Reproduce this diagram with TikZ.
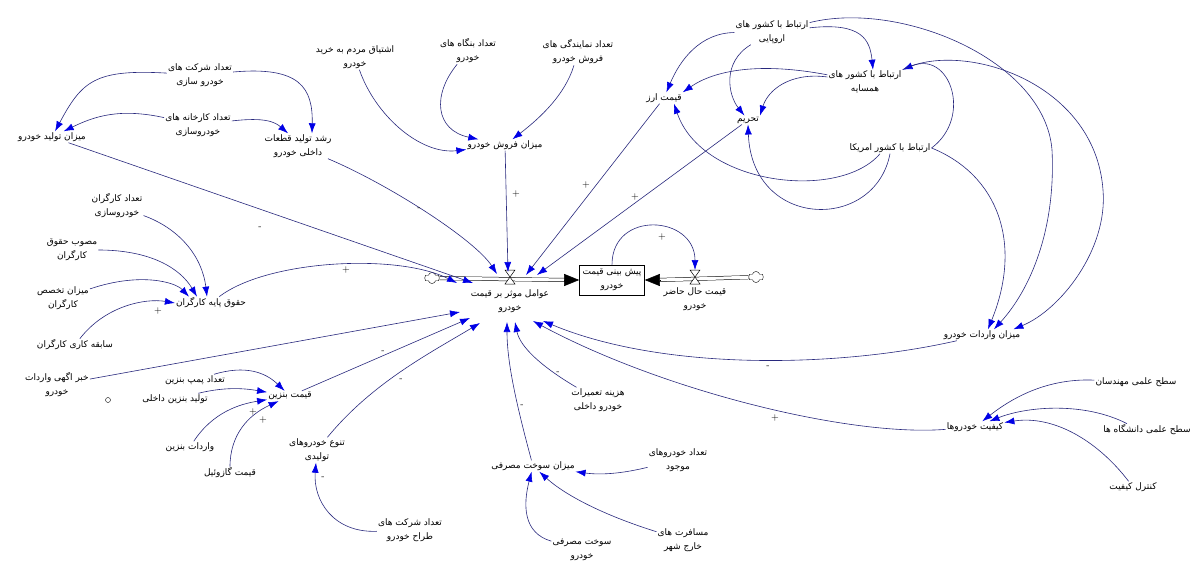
\documentclass[tikz,border=0pt]{standalone}
\usepackage{fontspec}
\newfontfamily\arabicfont[Script=Arabic]{DejaVu Sans}
\TeXXeTstate=1
\usetikzlibrary{arrows.meta, shapes.symbols}
\definecolor{linkblue}{RGB}{40,40,125}
\definecolor{arrowblue}{RGB}{0,0,230}
\newcommand{\fa}[1]{\beginR #1\endR}

\begin{document}
\begin{tikzpicture}[x=1pt, y=-1pt,
  every node/.append style={inner sep=1pt},
  var/.style={font=\arabicfont\fontsize{9}{14}\selectfont, align=center},
  stock/.style={var, draw=black, line width=0.6pt, minimum width=65pt, minimum height=30pt},
  link/.style={draw=linkblue, line width=0.6pt, -{Latex[length=10pt,width=7pt,color=arrowblue]}},
  pipe/.style={draw=black, line width=0.5pt, double distance=3pt},
  flowhead/.style={draw=black, line width=0.5pt, -{Triangle[length=15pt,width=12pt]}},
  valve/.style={draw=black, fill=white, line width=0.5pt},
  source/.style={draw=black, fill=white, shape=cloud, cloud puffs=6, aspect=1.4, minimum width=15pt, minimum height=11pt, inner sep=0pt},
  sign/.style={font=\fontsize{10}{10}\selectfont, inner sep=0pt}]
\useasboundingbox[fill=white] (0,0) rectangle (1192,567);

\node[var] (nCompanies) at (200,75) {\fa{تعداد شرکت های}\\\fa{خودرو سازی}};
\node[var] (nProd) at (52,137) {\fa{میزان تولید خودرو}};
\node[var] (nFactories) at (198,125) {\fa{تعداد کارخانه های}\\\fa{خودروسازی}};
\node[var] (nParts) at (298,146) {\fa{رشد تولید قطعات}\\\fa{داخلی خودرو}};
\node[var] (nDesire) at (355,57) {\fa{اشتیاق مردم به خرید}\\\fa{خودرو}};
\node[var] (nFirms) at (468,51) {\fa{تعداد بنگاه های}\\\fa{خودرو}};
\node[var] (nDealers) at (578,52) {\fa{تعداد نمایندگی های}\\\fa{فروش خودرو}};
\node[var] (nSales) at (505,145) {\fa{میزان فروش خودرو}};
\node[var] (nEurope) at (772,32) {\fa{ارتباط با کشور های}\\\fa{اروپایی}};
\node[var] (nNeighbor) at (865,82) {\fa{ارتباط با کشور های}\\\fa{همسایه}};
\node[var] (nFx) at (664,98) {\fa{قیمت ارز}};
\node[var] (nSanction) at (748,120) {\fa{تحریم}};
\node[var] (nUSA) at (890,148) {\fa{ارتباط با کشور امریکا}};
\node[var] (nWorkers) at (117,206) {\fa{تعداد کارگران}\\\fa{خودروسازی}};
\node[var] (nWageLaw) at (72,250) {\fa{مصوب حقوق}\\\fa{کارگران}};
\node[var] (nSkill) at (63,298) {\fa{میزان تخصص}\\\fa{کارگران}};
\node[var] (nWage) at (211,303) {\fa{حقوق پایه کارگران}};
\node[var] (nExper) at (75,345) {\fa{سابقه کاری کارگران}};
\node[var] (nFactors) at (510,301) {\fa{عوامل موثر بر قیمت}\\\fa{خودرو}};
\node[stock] (nForecast) at (612,280) {\fa{پیش بینی قیمت}\\\fa{خودرو}};
\node[var] (nCurrent) at (695,299) {\fa{قیمت حال حاضر}\\\fa{خودرو}};
\node[var] (nImport) at (982,335) {\fa{میزان واردات خودرو}};
\node[var] (nAds) at (57,385) {\fa{خبر اگهی واردات}\\\fa{خودرو}};
\node[draw=black, circle, minimum size=5pt, inner sep=0pt] (nDot) at (108,400) {};
\node[var] (nPumps) at (195,380) {\fa{تعداد پمپ بنزین}};
\node[var] (nRefine) at (175,399) {\fa{تولید بنزین داخلی}};
\node[var] (nPetrol) at (290,396) {\fa{قیمت بنزین}};
\node[var] (nPetImp) at (190,447) {\fa{واردات بنزین}};
\node[var] (nDiesel) at (230,473) {\fa{قیمت گازوئیل}};
\node[var] (nVariety) at (317,450) {\fa{تنوع خودروهای}\\\fa{تولیدی}};
\node[var] (nDesigners) at (410,530) {\fa{تعداد شرکت های}\\\fa{طراح خودرو}};
\node[var] (nRepair) at (598,400) {\fa{هزینه تعمیرات}\\\fa{خودرو داخلی}};
\node[var] (nFuel) at (533,466) {\fa{میزان سوخت مصرفی}};
\node[var] (nCars) at (678,460) {\fa{تعداد خودروهای}\\\fa{موجود}};
\node[var] (nCons) at (582,550) {\fa{سوخت مصرفی}\\\fa{خودرو}};
\node[var] (nTrips) at (683,540) {\fa{مسافرت های}\\\fa{خارج شهر}};
\node[var] (nEng) at (1136,382) {\fa{سطح علمی مهندسان}};
\node[var] (nQuality) at (975,427) {\fa{کیفیت خودروها}};
\node[var] (nUni) at (1147,430) {\fa{سطح علمی دانشگاه ها}};
\node[var] (nQC) at (1133,487) {\fa{کنترل کیفیت}};

\node[source] (cloudL) at (432,278) {};
\node[source] (cloudR) at (756,277) {};
\coordinate (vFactors) at (510,277);
\coordinate (vCurrent) at (695,277);

\draw[pipe] (cloudL) -- ([xshift=-14pt]nForecast.west);
\draw[flowhead] ([xshift=-15pt]nForecast.west) -- (nForecast.west);
\draw[pipe] (cloudR) -- ([xshift=14pt]nForecast.east);
\draw[flowhead] ([xshift=15pt]nForecast.east) -- (nForecast.east);
\draw[valve] ([shift={(-5,-7)}]vFactors) -- ([shift={(5,-7)}]vFactors) -- ([shift={(-5,7)}]vFactors) -- ([shift={(5,7)}]vFactors) -- cycle;
\draw[valve] ([shift={(-5,-7)}]vCurrent) -- ([shift={(5,-7)}]vCurrent) -- ([shift={(-5,7)}]vCurrent) -- ([shift={(5,7)}]vCurrent) -- cycle;

\draw[link] (nCompanies) .. controls (95,69) and (82,81) .. (nProd);
\draw[link] (nCompanies) .. controls (300,66) and (313,88) .. ([xshift=14pt]nParts.north);
\draw[link] (nFactories) .. controls (120,108) and (95,116) .. (nProd);
\draw[link] (nFactories) .. controls (265,117) and (275,122) .. ([xshift=-10pt]nParts.north);
\draw[link] (nProd) -- ([shift={(-37,6)}]vFactors);
\draw[link] (nParts) .. controls (390,185) and (475,240) .. ([shift={(-13,-3)}]vFactors);
\draw[link] (nDesire) .. controls (375,115) and (420,155) .. (nSales);
\draw[link] (nFirms) .. controls (432,95) and (435,130) .. (nSales);
\draw[link] (nDealers) .. controls (565,95) and (540,118) .. (nSales);
\draw[link] (nSales) -- ([shift={(-2,-5)}]vFactors);
\draw[link] (nEurope) .. controls (700,33) and (680,60) .. (nFx);
\draw[link] (nEurope) .. controls (722,62) and (728,95) .. (nSanction);
\draw[link] (nEurope) .. controls (862,22) and (870,40) .. ([xshift=8pt]nNeighbor.north);
\draw[link] (nNeighbor) .. controls (760,62) and (715,70) .. (nFx.north east);
\draw[link] (nNeighbor) .. controls (790,72) and (768,90) .. (nSanction.north east);
\draw[link] ([xshift=-10pt]nUSA.south) .. controls (840,201) and (702,186) .. ([xshift=10pt]nFx.south);
\draw[link] (nUSA.south) .. controls (875,232) and (752,230) .. (nSanction.south);
\draw[link] (nUSA.east) .. controls (973,117) and (950,50) .. (nNeighbor.north east);
\draw[link] (nEurope) .. controls (900,0) and (1045,60) .. (1052,150) .. controls (1056,230) and (1030,290) .. ([xshift=12pt]nImport.north);
\draw[link] (nNeighbor.north east) .. controls (960,40) and (1095,80) .. (1103,190) .. controls (1108,250) and (1060,310) .. ([xshift=-8pt]nImport.north east);
\draw[link] (nUSA.east) .. controls (998,175) and (1023,243) .. ([xshift=6pt]nImport.north);
\draw[link] (nFx) -- ([shift={(16,-2)}]vFactors);
\draw[link] (nSanction) -- ([shift={(27,-2)}]vFactors);
\draw[link] (nForecast.north) .. controls +(0,-55) and +(0,-55) .. ([yshift=7pt]vCurrent);
\draw[link] (nWorkers) .. controls (178,228) and (202,255) .. ([xshift=-4pt]nWage.north);
\draw[link] (nWageLaw) .. controls (150,250) and (180,268) .. ([xshift=-14pt]nWage.north);
\draw[link] (nSkill) .. controls (140,272) and (175,282) .. ([xshift=-22pt]nWage.north);
\draw[link] (nExper) .. controls (105,306) and (145,298) .. (nWage.west);
\draw[link] (nWage) .. controls (267,260) and (397,253) .. ([shift={(-53,6)}]vFactors);
\draw[link] (nAds) -- ([shift={(-50,35)}]vFactors);
\draw[link] (nPumps) .. controls (245,365) and (265,372) .. (nPetrol);
\draw[link] (nRefine) .. controls (228,386) and (248,389) .. (nPetrol);
\draw[link] (nPetImp) .. controls (213,412) and (240,404) .. (nPetrol);
\draw[link] (nDiesel) .. controls (230,435) and (248,415) .. (nPetrol);
\draw[link] (nPetrol) -- ([shift={(-40,41)}]vFactors);
\draw[link] (nVariety) .. controls (372,383) and (430,353) .. ([shift={(-30,46)}]vFactors);
\draw[link] (nDesigners) .. controls (333,533) and (313,500) .. (nVariety);
\draw[link] (nRepair) .. controls (542,367) and (520,347) .. ([shift={(5,45)}]vFactors);
\draw[link] (nFuel) .. controls (516,403) and (507,362) .. ([shift={(-3,45)}]vFactors);
\draw[link] (nCars) .. controls (620,474) and (600,475) .. (nFuel);
\draw[link] (nCons) .. controls (523,533) and (523,505) .. (nFuel);
\draw[link] (nTrips) .. controls (603,515) and (565,495) .. (nFuel);
\draw[link] (nImport) .. controls (837,368) and (663,371) .. ([shift={(33,44)}]vFactors);
\draw[link] (nQuality) .. controls (850,437) and (663,391) .. ([shift={(23,44)}]vFactors);
\draw[link] (nEng) .. controls (1047,378) and (1012,398) .. (nQuality);
\draw[link] ([xshift=-20pt]nUni.north) .. controls (1085,402) and (1028,406) .. (nQuality);
\draw[link] (nQC) .. controls (1097,440) and (1053,415) .. (nQuality);

\node[sign] (p1) at (260,228) {-};
\node[sign] (p2) at (419,209) {-};
\node[sign] (p3) at (516,194) {+};
\node[sign] (p4) at (586,185) {+};
\node[sign] (p5) at (635,197) {+};
\node[sign] (p6) at (662,237) {+};
\node[sign] (p7) at (346,270) {+};
\node[sign] (p8) at (158,311) {+};
\node[sign] (p9) at (253,412) {+};
\node[sign] (p10) at (263,420) {+};
\node[sign] (p11) at (383,352) {-};
\node[sign] (p12) at (401,380) {-};
\node[sign] (p13) at (323,478) {-};
\node[sign] (p14) at (558,373) {-};
\node[sign] (p15) at (522,406) {-};
\node[sign] (p16) at (768,367) {-};
\node[sign] (p17) at (775,418) {+};
\end{tikzpicture}
\end{document}
